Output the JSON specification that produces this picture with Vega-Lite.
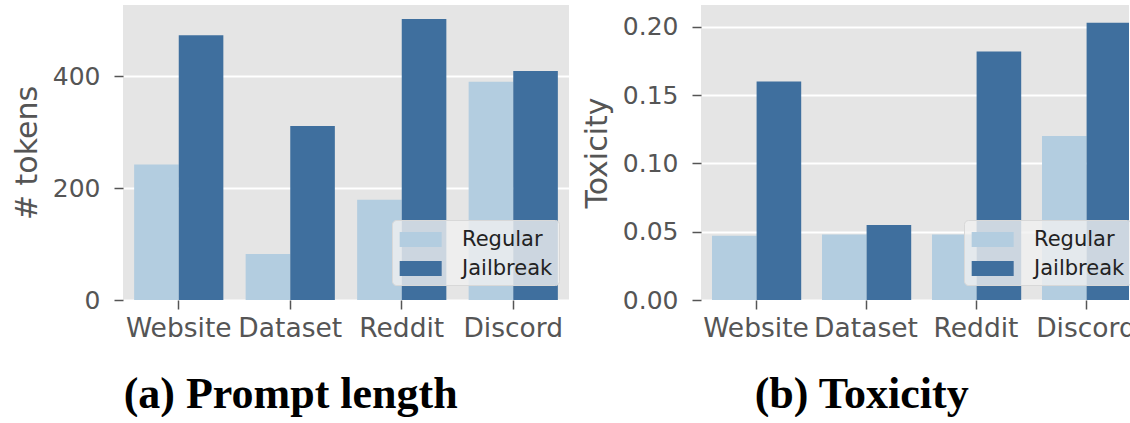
{
  "$schema": "https://vega.github.io/schema/vega-lite/v6.json",
  "padding": {"left": 12, "top": 5, "right": 0, "bottom": 0},
  "background": "white",
  "datasets": {
    "len": [
      {"source": "Website", "type": "Regular", "value": 242},
      {"source": "Website", "type": "Jailbreak", "value": 473},
      {"source": "Dataset", "type": "Regular", "value": 82},
      {"source": "Dataset", "type": "Jailbreak", "value": 311},
      {"source": "Reddit", "type": "Regular", "value": 179},
      {"source": "Reddit", "type": "Jailbreak", "value": 502},
      {"source": "Discord", "type": "Regular", "value": 390},
      {"source": "Discord", "type": "Jailbreak", "value": 409}
    ],
    "tox": [
      {"source": "Website", "type": "Regular", "value": 0.047},
      {"source": "Website", "type": "Jailbreak", "value": 0.160},
      {"source": "Dataset", "type": "Regular", "value": 0.048},
      {"source": "Dataset", "type": "Jailbreak", "value": 0.055},
      {"source": "Reddit", "type": "Regular", "value": 0.048},
      {"source": "Reddit", "type": "Jailbreak", "value": 0.182},
      {"source": "Discord", "type": "Regular", "value": 0.120},
      {"source": "Discord", "type": "Jailbreak", "value": 0.203}
    ]
  },
  "spacing": 13,
  "resolve": {"scale": {"color": "independent"}, "legend": {"color": "independent"}},
  "hconcat": [
    {
      "data": {"name": "len"},
      "width": 446,
      "height": 295,
      "title": {"text": "(a) Prompt length", "orient": "bottom", "anchor": "middle", "frame": "bounds", "offset": 31},
      "mark": {"type": "bar"},
      "encoding": {
        "x": {"field": "source", "type": "nominal", "sort": ["Website", "Dataset", "Reddit", "Discord"],
              "scale": {"paddingInner": 0.2, "paddingOuter": 0.1},
              "axis": {"title": null, "labelAngle": 0, "grid": false, "labelFontSize": 26.5, "labelPadding": 6}},
        "xOffset": {"field": "type", "type": "nominal", "sort": ["Regular", "Jailbreak"], "scale": {"paddingInner": 0, "paddingOuter": 0}},
        "y": {"field": "value", "type": "quantitative", "scale": {"domain": [0, 527], "nice": false},
              "axis": {"title": "# tokens", "values": [0, 200, 400]}},
        "color": {"field": "type", "type": "nominal", "sort": ["Regular", "Jailbreak"],
                  "scale": {"domain": ["Regular", "Jailbreak"], "range": ["#b3cde0", "#3f6f9e"]},
                  "legend": {"title": null, "orient": "none", "legendX": 269, "legendY": 215}}
      }
    },
    {
      "data": {"name": "tox"},
      "width": 428,
      "height": 295,
      "title": {"text": "(b) Toxicity", "orient": "bottom", "anchor": "middle", "frame": "bounds", "offset": 31},
      "mark": {"type": "bar", "clip": true},
      "encoding": {
        "x": {"field": "source", "type": "nominal", "sort": ["Website", "Dataset", "Reddit", "Discord"],
              "scale": {"paddingInner": 0.2, "paddingOuter": 0.1, "range": [0, 440]},
              "axis": {"title": null, "labelAngle": 0, "grid": false, "labelFontSize": 26.5, "labelPadding": 6}},
        "xOffset": {"field": "type", "type": "nominal", "sort": ["Regular", "Jailbreak"], "scale": {"paddingInner": 0, "paddingOuter": 0}},
        "y": {"field": "value", "type": "quantitative", "scale": {"domain": [0, 0.216], "nice": false},
              "axis": {"title": "Toxicity", "values": [0, 0.05, 0.1, 0.15, 0.2], "format": ".2f"}},
        "color": {"field": "type", "type": "nominal", "sort": ["Regular", "Jailbreak"],
                  "scale": {"domain": ["Regular", "Jailbreak"], "range": ["#b3cde0", "#3f6f9e"]},
                  "legend": {"title": null, "orient": "none", "legendX": 263, "legendY": 215}}
      }
    }
  ],
  "config": {
    "view": {"fill": "#e5e5e5", "stroke": null},
    "bar": {"stroke": null},
    "axis": {
      "domain": false,
      "tickColor": "#555555",
      "tickSize": 9,
      "tickWidth": 1.5,
      "labelColor": "#555555",
      "labelFont": "DejaVu Sans",
      "labelFontSize": 25,
      "labelPadding": 14,
      "titleFont": "DejaVu Sans",
      "titleFontSize": 30,
      "titleFontWeight": "normal",
      "titleColor": "#555555",
      "titlePadding": 10,
      "gridColor": "white",
      "gridWidth": 2
    },
    "legend": {
      "labelFont": "DejaVu Sans",
      "labelFontSize": 21,
      "labelColor": "#222222",
      "symbolType": "M-0.9,-0.57H2.3V0.57H-0.9Z",
      "symbolSize": 689,
      "symbolStrokeWidth": 0,
      "symbolOpacity": 1,
      "labelOffset": 37,
      "rowPadding": 5,
      "padding": 6,
      "fillColor": "rgba(240,240,240,0.8)",
      "strokeColor": "#d8d8d8",
      "cornerRadius": 4
    },
    "title": {
      "font": "Liberation Serif",
      "fontSize": 44,
      "fontWeight": "bold",
      "color": "black"
    }
  }
}
